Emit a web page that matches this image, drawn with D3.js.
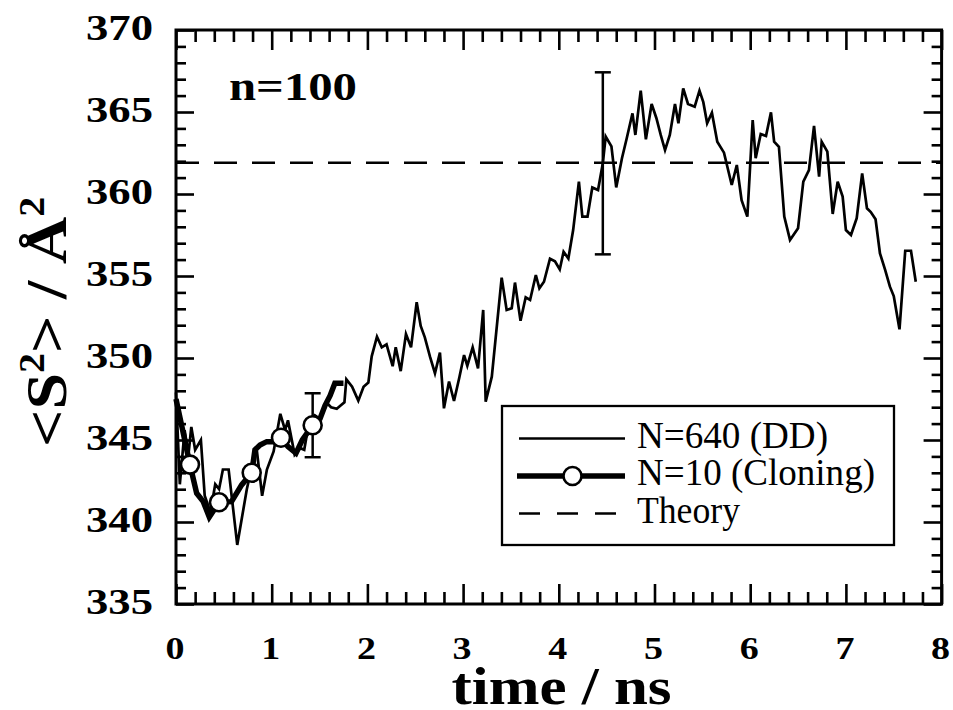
<!DOCTYPE html>
<html>
<head>
<meta charset="utf-8">
<script src="https://cdn.jsdelivr.net/npm/d3@7"></script>
<style>
  html, body { margin: 0; padding: 0; background: #fff; }
  svg { display: block; }
  text { fill: #000; }
</style>
</head>
<body>
<svg id="chart" width="953" height="710"></svg>
<script>
// Mean squared end-to-end distance <S^2> versus time, n = 100 chain.

// N=640 direct dynamics (DD) trajectory
const ddTime = [
  0.00, 0.04, 0.09, 0.13, 0.16, 0.20, 0.26, 0.30, 0.36, 0.41,
  0.45, 0.49, 0.55, 0.64, 0.74, 0.79, 0.84, 0.90, 0.95, 1.02,
  1.09, 1.14, 1.17, 1.24, 1.30, 1.34, 1.39, 1.45, 1.50, 1.57,
  1.62, 1.68, 1.72, 1.76, 1.78, 1.84, 1.905, 1.96, 2.01, 2.045,
  2.10, 2.15, 2.20, 2.264, 2.296, 2.348, 2.403, 2.456, 2.515, 2.557,
  2.60, 2.654, 2.706, 2.758, 2.80, 2.853, 2.905, 2.96, 3.01, 3.044,
  3.10, 3.156, 3.21, 3.236, 3.30, 3.403, 3.455, 3.508, 3.542, 3.60,
  3.654, 3.70, 3.76, 3.797, 3.845, 3.908, 3.96, 4.01, 4.05, 4.10,
  4.15, 4.21, 4.246, 4.30, 4.35, 4.41, 4.46, 4.49, 4.55, 4.60,
  4.66, 4.71, 4.77, 4.80, 4.856, 4.91, 4.97, 5.02, 5.065, 5.11,
  5.16, 5.214, 5.25, 5.30, 5.35, 5.42, 5.47, 5.51, 5.55, 5.60,
  5.656, 5.726, 5.807, 5.86, 5.91, 5.97, 6.026, 6.057, 6.11, 6.165,
  6.217, 6.25, 6.30, 6.356, 6.416, 6.50, 6.555, 6.614, 6.667, 6.72,
  6.747, 6.806, 6.862, 6.914, 6.966, 7.00, 7.053, 7.113, 7.17, 7.22,
  7.26, 7.31, 7.356, 7.41, 7.46, 7.50, 7.56, 7.62, 7.68, 7.73
];
const ddValue = [
  347.9, 342.3, 345.6, 344.1, 345.8, 344.4, 345.0, 341.6, 340.6, 342.3,
  342.0, 343.2, 343.2, 338.6, 342.0, 343.3, 344.6, 341.6, 343.2, 344.3,
  346.6, 345.6, 346.2, 344.1, 344.5, 344.4, 346.1, 346.5, 346.3, 347.3,
  347.0, 346.9, 347.1, 347.3, 348.7, 348.25, 347.4, 348.25, 348.5, 350.1,
  351.3, 350.65, 350.83, 349.5, 350.65, 349.2, 351.46, 350.65, 353.4, 351.95,
  351.26, 350.08, 349.07, 350.33, 346.93, 348.56, 347.38, 348.8, 350.18, 349.53,
  350.65, 349.37, 352.93, 347.34, 348.86, 354.9, 352.93, 353.03, 354.6, 352.27,
  353.7, 353.54, 355.06, 354.25, 354.65, 356.05, 355.9, 355.4, 356.48, 356.07,
  357.8, 360.75, 358.62, 358.62, 360.4, 360.24, 361.87, 363.5, 362.9, 360.4,
  362.18, 363.4, 364.92, 363.6, 366.3, 363.33, 365.49, 364.62, 363.6, 362.68,
  363.6, 365.49, 364.31, 366.44, 365.49, 365.32, 366.3, 365.6, 364.31, 364.96,
  363.19, 362.52, 360.55, 361.77, 359.63, 358.62, 364.51, 362.18, 363.66, 363.54,
  364.98, 363.19, 362.88, 358.62, 357.2, 357.91, 360.75, 361.46, 364.15, 361.06,
  363.19, 362.58, 358.78, 360.75, 359.84, 357.8, 357.5, 358.52, 361.26, 359.13,
  358.9, 358.46, 356.38, 355.37, 354.35, 353.78, 351.75, 356.54, 356.54, 354.65
];

// N=10 cloning run
const cloneTime = [
  0.00, 0.146, 0.216, 0.285, 0.348, 0.449, 0.58, 0.686, 0.791, 0.825,
  0.878, 0.948, 1.02, 1.097, 1.17, 1.254, 1.32, 1.428, 1.505, 1.557,
  1.61, 1.66, 1.75
];
const cloneValue = [
  347.5, 343.5, 341.75, 341.24, 340.3, 341.2, 341.24, 342.26, 343.0, 344.4,
  344.7, 344.9, 344.9, 345.14, 344.6, 344.2, 345.0, 345.9, 346.3, 347.1,
  347.7, 348.46, 348.46
];
// open-circle symbols on the cloning curve
const markerTime  = [0.146, 0.449, 0.791, 1.097, 1.428];
const markerValue = [343.5, 341.2, 343.0, 345.14, 345.9];

// error bars (centre ± half-width)
const errTime   = [1.428, 4.46];
const errCenter = [345.9, 361.87];
const errHalf   = [1.95, 5.55];

// theoretical value
const theoryValue = 361.9;

// axes
const xMajorTicks = [0, 1, 2, 3, 4, 5, 6, 7, 8];
const yMajorTicks = [335, 340, 345, 350, 355, 360, 365, 370];

const legendLabels = ["N=640 (DD)", "N=10 (Cloning)", "Theory"];

// ---------------------------------------------------------------
// pick the first installed Times-like face
function pickFont(candidates) {
  const ctx = document.createElement("canvas").getContext("2d");
  const probe = "N=640 (Cloning) time / ns 0123456789";
  ctx.font = "bold 40px monospace";
  const base = ctx.measureText(probe).width;
  for (const f of candidates) {
    ctx.font = `bold 40px "${f}", monospace`;
    if (Math.abs(ctx.measureText(probe).width - base) > 0.5) return `"${f}"`;
  }
  return "serif";
}
const serifFont = pickFont(["Liberation Serif", "Tinos", "Times New Roman", "Nimbus Roman", "FreeSerif", "DejaVu Serif"]);

const svg = d3.select("#chart").style("font-family", serifFont);
const plotLeft = 176, plotRight = 941.6, plotTop = 30, plotBottom = 604;

const x = d3.scaleLinear().domain([0, 8]).range([plotLeft, plotRight]);
const y = d3.scaleLinear().domain([335, 370]).range([plotBottom, plotTop]);

const xMinor = d3.range(0, 8.0001, 0.2).filter(v => Math.abs(v - Math.round(v)) > 1e-6);
const yMinor = d3.range(335, 370.0001, 1).filter(v => v % 5 !== 0);

function tickAxis(axisFn, scale, values, size, transform) {
  const g = svg.append("g")
    .attr("transform", transform)
    .call(axisFn(scale).tickValues(values).tickSize(-size).tickFormat(""));
  g.select(".domain").remove();
  g.selectAll(".tick line").attr("stroke", "#000").attr("stroke-width", 2.6);
  return g;
}

// inward ticks on all four sides
tickAxis(d3.axisBottom, x, xMajorTicks, 20, `translate(0,${plotBottom})`);
tickAxis(d3.axisBottom, x, xMinor, 12, `translate(0,${plotBottom})`);
tickAxis(d3.axisTop, x, xMajorTicks, 20, `translate(0,${plotTop})`);
tickAxis(d3.axisTop, x, xMinor, 12, `translate(0,${plotTop})`);
tickAxis(d3.axisLeft, y, yMajorTicks, 18, `translate(${plotLeft},0)`);
tickAxis(d3.axisLeft, y, yMinor, 10, `translate(${plotLeft},0)`);
tickAxis(d3.axisRight, y, yMajorTicks, 18, `translate(${plotRight},0)`);
tickAxis(d3.axisRight, y, yMinor, 10, `translate(${plotRight},0)`);

// tick labels
svg.append("g").selectAll("text").data(xMajorTicks).join("text")
  .attr("x", d => x(d) - 1).attr("y", 658.5)
  .attr("text-anchor", "middle")
  .attr("font-size", 32).attr("font-weight", "bold")
  .attr("textLength", 19).attr("lengthAdjust", "spacingAndGlyphs")
  .text(d => d);

svg.append("g").selectAll("text").data(yMajorTicks).join("text")
  .attr("x", 153).attr("y", d => y(d) + 9.5)
  .attr("text-anchor", "end")
  .attr("font-size", 35).attr("font-weight", "bold")
  .attr("textLength", 67).attr("lengthAdjust", "spacingAndGlyphs")
  .text(d => d);

// theory line
svg.append("line")
  .attr("x1", plotLeft).attr("x2", plotRight)
  .attr("y1", y(theoryValue)).attr("y2", y(theoryValue))
  .attr("stroke", "#000").attr("stroke-width", 2.5)
  .attr("stroke-dasharray", "23,15");

const line = d3.line().x(d => x(d[0])).y(d => y(d[1]));

// DD curve
svg.append("path")
  .datum(d3.zip(ddTime, ddValue))
  .attr("d", line)
  .attr("fill", "none").attr("stroke", "#000")
  .attr("stroke-width", 2.7).attr("stroke-linejoin", "miter");

// cloning curve
svg.append("path")
  .datum(d3.zip(cloneTime, cloneValue))
  .attr("d", line)
  .attr("fill", "none").attr("stroke", "#000")
  .attr("stroke-width", 5.5).attr("stroke-linejoin", "miter");

// error bars
const eb = svg.append("g").attr("stroke", "#000").attr("stroke-width", 2.5);
errTime.forEach((t, i) => {
  const lo = errCenter[i] - errHalf[i], hi = errCenter[i] + errHalf[i];
  eb.append("line").attr("x1", x(t)).attr("x2", x(t)).attr("y1", y(lo)).attr("y2", y(hi));
  eb.append("line").attr("x1", x(t) - 8).attr("x2", x(t) + 8).attr("y1", y(lo)).attr("y2", y(lo));
  eb.append("line").attr("x1", x(t) - 8).attr("x2", x(t) + 8).attr("y1", y(hi)).attr("y2", y(hi));
});

// markers
svg.append("g").selectAll("circle").data(d3.zip(markerTime, markerValue)).join("circle")
  .attr("cx", d => x(d[0])).attr("cy", d => y(d[1])).attr("r", 9)
  .attr("fill", "#fff").attr("stroke", "#000").attr("stroke-width", 2.6);

// frame
svg.append("rect")
  .attr("x", plotLeft).attr("y", plotTop)
  .attr("width", plotRight - plotLeft).attr("height", plotBottom - plotTop)
  .attr("fill", "none").attr("stroke", "#000").attr("stroke-width", 3);

// chain length annotation
svg.append("text")
  .attr("x", 229).attr("y", 100)
  .attr("font-size", 40).attr("font-weight", "bold")
  .attr("textLength", 128).attr("lengthAdjust", "spacingAndGlyphs")
  .text("n=100");

// axis titles
svg.append("text")
  .attr("x", 561.5).attr("y", 704)
  .attr("text-anchor", "middle")
  .attr("font-size", 52).attr("font-weight", "bold")
  .attr("textLength", 220).attr("lengthAdjust", "spacingAndGlyphs")
  .text("time / ns");

const yTitle = svg.append("text")
  .attr("transform", "translate(66,322) rotate(-90)")
  .attr("text-anchor", "middle")
  .attr("font-size", 58).attr("font-weight", "bold")
  .attr("textLength", 250).attr("lengthAdjust", "spacingAndGlyphs");
yTitle.append("tspan").text("<S");
yTitle.append("tspan").attr("font-size", 35).attr("dy", -22).text("2");
yTitle.append("tspan").attr("dy", 22).text("> / Å");
yTitle.append("tspan").attr("font-size", 35).attr("dy", -22).text("2");

// legend
const lg = svg.append("g");
lg.append("rect")
  .attr("x", 502).attr("y", 406).attr("width", 392).attr("height", 139)
  .attr("fill", "#fff").attr("stroke", "#000").attr("stroke-width", 2.3);
const rowY = [438.5, 476, 513.5];
lg.append("line").attr("x1", 519).attr("x2", 625).attr("y1", rowY[0]).attr("y2", rowY[0])
  .attr("stroke", "#000").attr("stroke-width", 2.6);
lg.append("line").attr("x1", 517).attr("x2", 625).attr("y1", rowY[1]).attr("y2", rowY[1])
  .attr("stroke", "#000").attr("stroke-width", 5.5);
lg.append("circle").attr("cx", 572.5).attr("cy", rowY[1]).attr("r", 9)
  .attr("fill", "#fff").attr("stroke", "#000").attr("stroke-width", 2.6);
lg.append("line").attr("x1", 519).attr("x2", 620).attr("y1", rowY[2]).attr("y2", rowY[2])
  .attr("stroke", "#000").attr("stroke-width", 2.5).attr("stroke-dasharray", "21,17");
const legendWidths = [191, 238, 103];
lg.selectAll("text.lbl").data(legendLabels).join("text")
  .attr("class", "lbl")
  .attr("x", 637).attr("y", (d, i) => rowY[i] + 9)
  .attr("font-size", 37)
  .attr("textLength", (d, i) => legendWidths[i]).attr("lengthAdjust", "spacingAndGlyphs")
  .text(d => d);
</script>
</body>
</html>
